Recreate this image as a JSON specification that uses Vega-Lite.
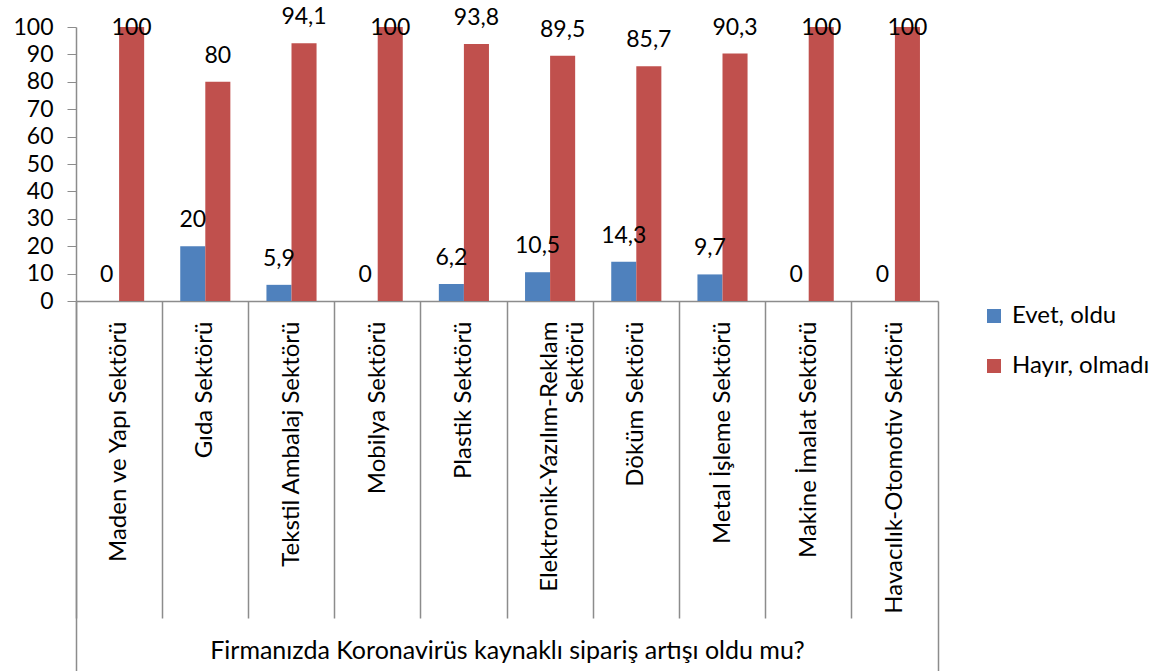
{
  "$schema": "https://vega.github.io/schema/vega-lite/v6.json",
  "width": 862,
  "height": 274,
  "autosize": {"type": "none"},
  "padding": {"left": 76, "top": 27, "right": 215, "bottom": 370},
  "config": {
    "view": {"stroke": null},
    "font": "Lato",
    "locale": {"number": {"decimal": ",", "thousands": ".", "grouping": [3], "currency": ["", " TL"]}},
    "axis": {"domainColor": "#8c8c8c", "tickColor": "#8c8c8c", "labelColor": "#000000", "titleColor": "#000000", "grid": false}
  },
  "data": {
    "values": [
      {"sector": "Maden ve Yapı Sektörü", "series": "Evet, oldu", "value": 0},
      {"sector": "Maden ve Yapı Sektörü", "series": "Hayır, olmadı", "value": 100},
      {"sector": "Gıda Sektörü", "series": "Evet, oldu", "value": 20},
      {"sector": "Gıda Sektörü", "series": "Hayır, olmadı", "value": 80},
      {"sector": "Tekstil Ambalaj Sektörü", "series": "Evet, oldu", "value": 5.9},
      {"sector": "Tekstil Ambalaj Sektörü", "series": "Hayır, olmadı", "value": 94.1},
      {"sector": "Mobilya Sektörü", "series": "Evet, oldu", "value": 0},
      {"sector": "Mobilya Sektörü", "series": "Hayır, olmadı", "value": 100},
      {"sector": "Plastik Sektörü", "series": "Evet, oldu", "value": 6.2},
      {"sector": "Plastik Sektörü", "series": "Hayır, olmadı", "value": 93.8},
      {"sector": "Elektronik-Yazılım-Reklam Sektörü", "series": "Evet, oldu", "value": 10.5},
      {"sector": "Elektronik-Yazılım-Reklam Sektörü", "series": "Hayır, olmadı", "value": 89.5},
      {"sector": "Döküm Sektörü", "series": "Evet, oldu", "value": 14.3},
      {"sector": "Döküm Sektörü", "series": "Hayır, olmadı", "value": 85.7},
      {"sector": "Metal İşleme Sektörü", "series": "Evet, oldu", "value": 9.7},
      {"sector": "Metal İşleme Sektörü", "series": "Hayır, olmadı", "value": 90.3},
      {"sector": "Makine İmalat Sektörü", "series": "Evet, oldu", "value": 0},
      {"sector": "Makine İmalat Sektörü", "series": "Hayır, olmadı", "value": 100},
      {"sector": "Havacılık-Otomotiv Sektörü", "series": "Evet, oldu", "value": 0},
      {"sector": "Havacılık-Otomotiv Sektörü", "series": "Hayır, olmadı", "value": 100}
    ]
  },
  "encoding": {
    "y": {
      "field": "value",
      "type": "quantitative",
      "scale": {"domain": [0, 100], "nice": false},
      "axis": {"values": [0, 10, 20, 30, 40, 50, 60, 70, 80, 90, 100], "title": null, "tickSize": 9, "labelPadding": 14, "labelFontSize": 23, "domainWidth": 1.5}
    },
    "xOffset": {"field": "series", "type": "nominal", "scale": {"paddingOuter": 0.72, "paddingInner": 0}}
  },
  "layer": [
    {
      "mark": {"type": "bar"},
      "encoding": {
        "x": {
          "field": "sector", "type": "nominal",
          "sort": ["Maden ve Yapı Sektörü", "Gıda Sektörü", "Tekstil Ambalaj Sektörü", "Mobilya Sektörü", "Plastik Sektörü", "Elektronik-Yazılım-Reklam Sektörü", "Döküm Sektörü", "Metal İşleme Sektörü", "Makine İmalat Sektörü", "Havacılık-Otomotiv Sektörü"],
          "scale": {"paddingInner": 0, "paddingOuter": 0},
          "axis": {
            "orient": "bottom", "ticks": false, "labelAngle": 270, "labelAlign": "right", "labelBaseline": "middle",
            "labelPadding": 20, "labelFontSize": 24, "labelLimit": 0, "domainWidth": 1.5,
            "labelExpr": "datum.label == 'Elektronik-Yazılım-Reklam Sektörü' ? ['Elektronik-Yazılım-Reklam', 'Sektörü'] : datum.label",
            "title": "Firmanızda Koronavirüs kaynaklı sipariş artışı oldu mu?",
            "titleFontSize": 25, "titleFontWeight": "normal", "titleY": 357, "titleBaseline": "alphabetic"
          }
        },
        "color": {
          "field": "series", "type": "nominal",
          "scale": {"range": ["#4F81BD", "#C0504D"]},
          "legend": {
            "title": null, "orient": "none", "legendX": 906, "legendY": 277,
            "symbolType": "square", "symbolSize": 196, "symbolStrokeWidth": 0,
            "labelFontSize": 24, "labelColor": "#000000", "labelOffset": 6, "rowPadding": 26
          }
        }
      }
    },
    {
      "transform": [{"filter": "datum.value < 100 && datum.series == 'Evet, oldu'"}],
      "mark": {"type": "text", "baseline": "alphabetic", "dy": -19, "fontSize": 23, "color": "#000000"},
      "encoding": {
        "x": {
          "field": "sector", "type": "nominal",
          "sort": ["Maden ve Yapı Sektörü", "Gıda Sektörü", "Tekstil Ambalaj Sektörü", "Mobilya Sektörü", "Plastik Sektörü", "Elektronik-Yazılım-Reklam Sektörü", "Döküm Sektörü", "Metal İşleme Sektörü", "Makine İmalat Sektörü", "Havacılık-Otomotiv Sektörü"],
          "scale": {"paddingInner": 0, "paddingOuter": 0},
          "axis": {"orient": "bottom", "labels": false, "domain": false, "title": null, "bandPosition": 0, "tickSize": 317, "tickWidth": 1.5}
        },
        "text": {"field": "value", "type": "quantitative", "format": "~g"}
      }
    },
    {
      "transform": [{"filter": "datum.value >= 100"}],
      "mark": {"type": "text", "baseline": "alphabetic", "dy": 8, "fontSize": 23, "color": "#000000"},
      "encoding": {
        "x": {
          "field": "sector", "type": "nominal",
          "sort": ["Maden ve Yapı Sektörü", "Gıda Sektörü", "Tekstil Ambalaj Sektörü", "Mobilya Sektörü", "Plastik Sektörü", "Elektronik-Yazılım-Reklam Sektörü", "Döküm Sektörü", "Metal İşleme Sektörü", "Makine İmalat Sektörü", "Havacılık-Otomotiv Sektörü"],
          "scale": {"paddingInner": 0, "paddingOuter": 0},
          "axis": {"orient": "bottom", "labels": false, "domain": false, "title": null, "bandPosition": 0, "values": ["Maden ve Yapı Sektörü"], "tickSize": 375, "tickWidth": 1.5}
        },
        "text": {"field": "value", "type": "quantitative", "format": "~g"}
      }
    },
    {
      "transform": [{"filter": "datum.value < 100 && datum.series == 'Hayır, olmadı'"}],
      "mark": {"type": "text", "baseline": "alphabetic", "dy": -19, "fontSize": 23, "color": "#000000"},
      "encoding": {
        "x": {
          "field": "sector", "type": "nominal",
          "sort": ["Maden ve Yapı Sektörü", "Gıda Sektörü", "Tekstil Ambalaj Sektörü", "Mobilya Sektörü", "Plastik Sektörü", "Elektronik-Yazılım-Reklam Sektörü", "Döküm Sektörü", "Metal İşleme Sektörü", "Makine İmalat Sektörü", "Havacılık-Otomotiv Sektörü"],
          "scale": {"paddingInner": 0, "paddingOuter": 0},
          "axis": {"orient": "bottom", "labels": false, "domain": false, "title": null, "bandPosition": 1, "values": ["Havacılık-Otomotiv Sektörü"], "tickSize": 375, "tickWidth": 1.5}
        },
        "text": {"field": "value", "type": "quantitative", "format": "~g"}
      }
    }
  ],
  "resolve": {"axis": {"x": "independent"}}
}
